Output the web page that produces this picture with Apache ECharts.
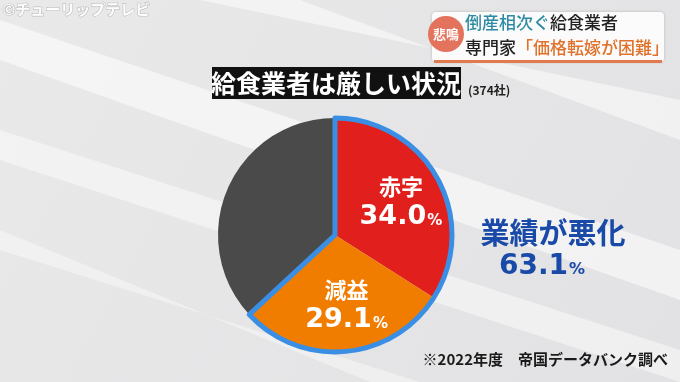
<!DOCTYPE html>
<html><head><meta charset="utf-8">
<script src="https://cdn.jsdelivr.net/npm/echarts@6/dist/echarts.min.js"></script>
<style>html,body{margin:0;padding:0;}#c{width:680px;height:382px;}</style>
</head><body><div id="c"></div>
<script>
const categories = ['赤字', '減益', 'その他'];
const values = [34.0, 29.1, 36.9];
const sliceColors = ['#e11f1c', '#f07d00', '#4a4a4a'];
const groupLabel = '業績が悪化';
const groupValue = +(values[0] + values[1]).toFixed(1);
const title = '給食業者は厳しい状況';
const subtitle = '(374社)';
const note = '※2022年度　帝国データバンク調べ';

const JP = '"Noto Sans CJK JP", "Noto Sans", sans-serif';
const NUM = '"DejaVu Sans", sans-serif';
const chart = echarts.init(document.getElementById('c'), null, {renderer: 'canvas'});
const C = ['335', '235'];
const R = 117;
const labelPads = [[0, 0, 6, 24], [18, 0, 0, 12], [0, 0, 0, 0]];

const option = {
  backgroundColor: {type: 'linear', x: 0, y: 0, x2: 1, y2: 1, colorStops: [
    {offset: 0, color: '#e9e9ea'}, {offset: 1, color: '#e2e2e4'}]},
  animation: false,
  graphic: [
    {type: 'polygon', silent: true, z: -10, shape: {points: [[0, 20], [0, 60], [680, 300], [680, 250]]}, style: {fill: 'rgba(255,255,255,0.55)'}},
    {type: 'polygon', silent: true, z: -10, shape: {points: [[0, 130], [0, 160], [680, 382], [680, 350]]}, style: {fill: 'rgba(255,255,255,0.45)'}},
    {type: 'polygon', silent: true, z: -10, shape: {points: [[200, 0], [300, 0], [680, 140], [680, 100]]}, style: {fill: 'rgba(255,255,255,0.5)'}},
    {type: 'polygon', silent: true, z: -10, shape: {points: [[0, 230], [0, 250], [420, 382], [370, 382]]}, style: {fill: 'rgba(255,255,255,0.4)'}},
    {type: 'text', left: 2, top: 1, style: {text: '©チューリップテレビ', fill: 'rgba(255,255,255,0.95)', font: 'bold 15px ' + JP, stroke: 'rgba(140,140,140,0.45)', lineWidth: 1.2}},
    {type: 'rect', shape: {x: 432, y: 12, width: 232, height: 50, r: 4}, style: {fill: '#fbfbfb', shadowBlur: 3, shadowColor: 'rgba(0,0,0,0.2)'}},
    {type: 'rect', shape: {x: 434, y: 60, width: 228, height: 3}, style: {fill: '#e27a4f'}},
    {type: 'circle', shape: {cx: 446, cy: 34, r: 18}, style: {fill: '#e4735d'}},
    {type: 'text', x: 446, y: 34, style: {text: '悲鳴', fill: '#fff', font: 'bold 13px ' + JP, align: 'center', verticalAlign: 'middle'}},
    {type: 'text', x: 465, y: 23, style: {rich: {a: {fill: '#2f8aa4', font: '500 17px ' + JP}, b: {fill: '#222', font: '500 17px ' + JP}}, text: '{a|倒産相次ぐ}{b|給食業者}', verticalAlign: 'middle'}},
    {type: 'text', x: 465, y: 48, style: {rich: {a: {fill: '#222', font: '500 17px ' + JP}, b: {fill: '#e0722c', font: '500 17px ' + JP}}, text: '{a|専門家}{b|「価格転嫁が困難」}', verticalAlign: 'middle'}},
    {type: 'rect', shape: {x: 212, y: 67, width: 249, height: 32}, style: {fill: '#111'}},
    {type: 'text', x: 336, y: 83, style: {text: title, fill: '#fff', font: 'bold 25px ' + JP, align: 'center', verticalAlign: 'middle'}},
    {type: 'text', x: 468, y: 90, style: {text: subtitle, fill: '#222', font: 'bold 12px ' + JP, verticalAlign: 'middle'}},
    {type: 'text', x: 553, y: 233, style: {text: groupLabel, fill: '#1a4aa8', font: 'bold 29px ' + JP, align: 'center', verticalAlign: 'middle'}},
    {type: 'text', x: 542, y: 267, style: {rich: {n: {fill: '#1a4aa8', font: 'bold 28px ' + NUM}, p: {fill: '#1a4aa8', font: 'bold 16px ' + NUM, padding: [6, 0, 0, 1]}}, text: '{n|' + groupValue.toFixed(1) + '}{p|%}', align: 'center', verticalAlign: 'middle'}},
    {type: 'text', right: 12, top: 352, style: {text: note, fill: '#1a1a1a', font: 'bold 15px ' + JP}}
  ],
  series: [
    {
      type: 'pie', center: C, radius: [0, R], startAngle: 90, clockwise: true,
      labelLine: {show: false},
      itemStyle: {borderWidth: 0},
      emphasis: {disabled: true},
      data: categories.map((n, i) => ({name: n, value: values[i], itemStyle: {color: sliceColors[i]},
        label: {show: i < 2, position: 'inside', padding: labelPads[i],
          formatter: p => '{a|' + p.name + '}\n{b|' + p.value.toFixed(1) + '}{c|%}',
          rich: {
            a: {color: '#fff', fontFamily: JP, fontWeight: 'bold', fontSize: 22, lineHeight: 30, align: 'center'},
            b: {color: '#fff', fontFamily: NUM, fontWeight: 'bold', fontSize: 27, lineHeight: 32},
            c: {color: '#fff', fontFamily: NUM, fontWeight: 'bold', fontSize: 15, padding: [7, 0, 0, 1]}
          }}}))
    },
    {
      type: 'pie', center: C, radius: [0, R], startAngle: 90, clockwise: true, z: 3, silent: true,
      label: {show: false}, labelLine: {show: false}, emphasis: {disabled: true},
      data: [
        {value: groupValue, itemStyle: {color: 'rgba(0,0,0,0)', borderColor: '#3a8fe4', borderWidth: 5, borderJoin: 'round'}},
        {value: values[2], itemStyle: {color: 'rgba(0,0,0,0)', borderWidth: 0}}
      ]
    }
  ]
};
chart.setOption(option);
</script></body></html>
